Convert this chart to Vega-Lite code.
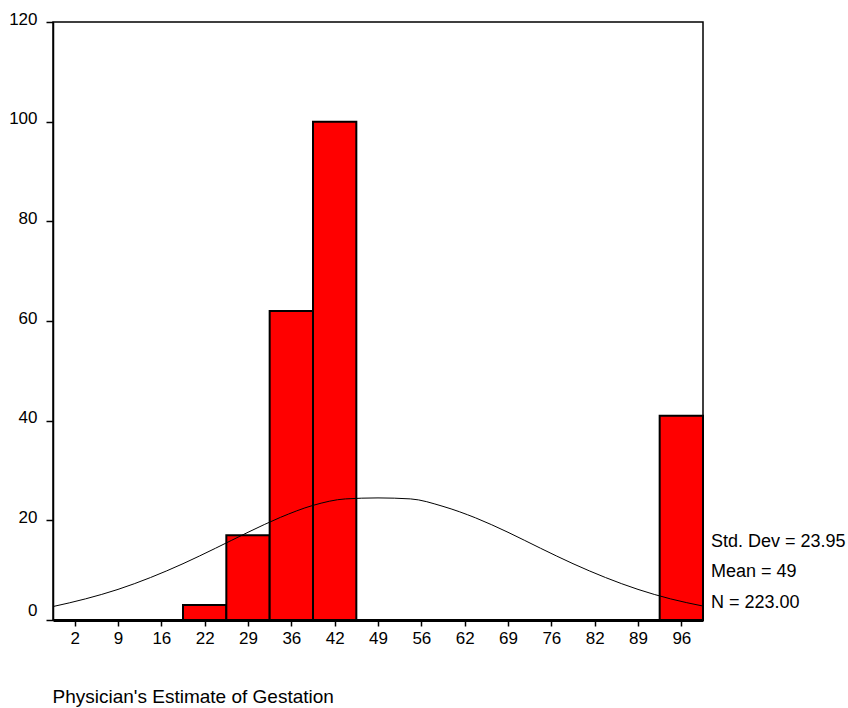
{
  "$schema": "https://vega.github.io/schema/vega-lite/v6.json",
  "autosize": {"type": "none"},
  "padding": {"left": 53, "top": 22, "right": 145, "bottom": 88},
  "width": 650,
  "height": 598,
  "background": "white",
  "config": {
    "font": "Liberation Sans",
    "view": {"stroke": "black", "strokeWidth": 1.5},
    "axis": {"grid": false, "domainColor": "black", "tickColor": "black", "labelColor": "black", "titleColor": "black", "labelFont": "Liberation Sans", "titleFont": "Liberation Sans"}
  },
  "datasets": {
    "bars": [
      {"bin_start": 19, "bin_end": 25.667, "count": 3},
      {"bin_start": 25.667, "bin_end": 32.333, "count": 17},
      {"bin_start": 32.333, "bin_end": 39, "count": 62},
      {"bin_start": 39, "bin_end": 45.667, "count": 100},
      {"bin_start": 92.333, "bin_end": 99, "count": 41}
    ],
    "curve": [
      {"x": -1, "y": 2.7}, {"x": 4, "y": 4.24}, {"x": 9, "y": 6.14}, {"x": 14, "y": 8.52},
      {"x": 19, "y": 11.3}, {"x": 24, "y": 14.4}, {"x": 29, "y": 17.6}, {"x": 34, "y": 20.6},
      {"x": 39, "y": 23.0}, {"x": 44, "y": 24.3}, {"x": 49, "y": 24.5}, {"x": 54, "y": 24.3},
      {"x": 59, "y": 22.8}, {"x": 64, "y": 20.5}, {"x": 69, "y": 17.6}, {"x": 74, "y": 14.4},
      {"x": 79, "y": 11.3}, {"x": 84, "y": 8.52}, {"x": 89, "y": 6.14}, {"x": 94, "y": 4.24},
      {"x": 99, "y": 2.8}
    ],
    "stats": [
      {"label": "Std. Dev = 23.95", "x": 99, "y": 15.7},
      {"label": "Mean = 49", "x": 99, "y": 9.7},
      {"label": "N = 223.00", "x": 99, "y": 3.5}
    ]
  },
  "layer": [
    {
      "data": {"name": "bars"},
      "mark": {"type": "rect", "fill": "#ff0000", "stroke": "black", "strokeWidth": 2},
      "encoding": {
        "x": {
          "field": "bin_start", "type": "quantitative",
          "scale": {"domain": [-1, 99], "nice": false, "zero": false},
          "axis": {
            "values": [2.333, 9, 15.667, 22.333, 29, 35.667, 42.333, 49, 55.667, 62.333, 69, 75.667, 82.333, 89, 95.667],
            "labelExpr": "format(round(datum.value), 'd')",
            "domainWidth": 3,
            "tickSize": 6, "tickWidth": 1.5,
            "labelFontSize": 17, "labelPadding": 4,
            "title": "Physician's Estimate of Gestation",
            "titleFontSize": 19, "titleFontWeight": "normal",
            "titleAnchor": "start", "titleAlign": "left",
            "titleX": -1, "titleY": 82, "titleBaseline": "alphabetic"
          }
        },
        "x2": {"field": "bin_end"},
        "y": {
          "field": "count", "type": "quantitative",
          "scale": {"domain": [0, 120], "nice": false},
          "axis": {
            "values": [0, 20, 40, 60, 80, 100, 120],
            "domainWidth": 1.5, "tickSize": 7, "tickWidth": 1.5,
            "labelFontSize": 17, "labelPadding": 9,
            "labelOffset": {"condition": {"test": "datum.value == 0", "value": -10}, "value": -3},
            "title": null
          }
        },
        "y2": {"datum": 0}
      }
    },
    {
      "data": {"name": "curve"},
      "mark": {"type": "line", "color": "black", "strokeWidth": 1, "interpolate": "monotone"},
      "encoding": {
        "x": {"field": "x", "type": "quantitative"},
        "y": {"field": "y", "type": "quantitative"}
      }
    },
    {
      "data": {"name": "stats"},
      "mark": {"type": "text", "align": "left", "baseline": "middle", "dx": 8, "fontSize": 18, "color": "black"},
      "encoding": {
        "x": {"field": "x", "type": "quantitative"},
        "y": {"field": "y", "type": "quantitative"},
        "text": {"field": "label"}
      }
    }
  ]
}
